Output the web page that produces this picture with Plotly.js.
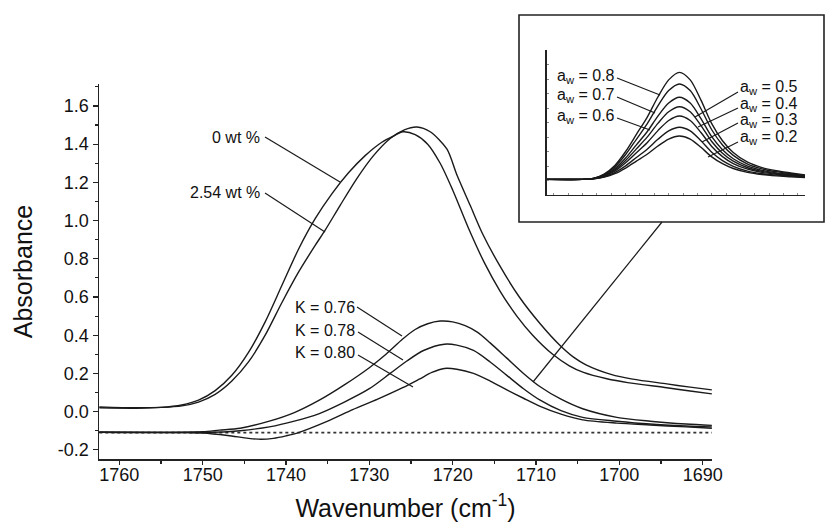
<!DOCTYPE html>
<html>
<head>
<meta charset="utf-8">
<script src="https://cdn.plot.ly/plotly-3.0.1.min.js"></script>
<style>html,body{margin:0;padding:0;background:#fff;}#chart{width:826px;height:525px;}</style>
</head>
<body>
<div id="chart"></div>
<script>
// ---------- main spectra (wavenumber cm-1, absorbance) ----------
const wt0_x = [1762.4,1758,1755,1752.5,1750.5,1748.5,1746.5,1744.5,1742.5,1740.5,1738.5,1736.5,1734.5,1732.5,1730.5,1728.5,1727,1726,1724.5,1723,1721.5,1720,1718.1,1716.2,1714.3,1712.3,1710.4,1708,1706,1704.3,1701.5,1699,1694.3,1691.5,1688.9];
const wt0_y = [0.02,0.018,0.022,0.035,0.06,0.11,0.19,0.31,0.47,0.66,0.85,1.01,1.14,1.25,1.34,1.41,1.445,1.465,1.45,1.40,1.30,1.16,0.96,0.78,0.63,0.50,0.40,0.30,0.24,0.205,0.172,0.152,0.125,0.108,0.093];

const wt254_x = [1762.4,1758,1755,1752.5,1750.5,1748.5,1746.5,1744.5,1742.5,1740.5,1738.5,1736.5,1735.3,1733.5,1731.5,1729.5,1727.5,1725.8,1724.3,1722.7,1720.7,1719.5,1717.9,1716.4,1714.3,1712,1709.5,1707.2,1705.5,1704,1701,1698.4,1694.3,1691.5,1688.9];
const wt254_y = [0.025,0.02,0.022,0.03,0.05,0.09,0.16,0.26,0.40,0.57,0.73,0.87,0.95,1.08,1.22,1.34,1.43,1.475,1.49,1.465,1.375,1.24,1.08,0.93,0.76,0.60,0.46,0.35,0.285,0.245,0.195,0.17,0.145,0.128,0.114];

const k76_x = [1762.4,1755,1750,1748,1745.5,1742,1739,1736,1733,1730,1728,1726,1724.5,1723,1721.5,1720,1718.5,1717,1715.5,1713.5,1711.5,1709.5,1707,1704.4,1700.3,1696.3,1692,1688.9];
const k76_y = [-0.108,-0.11,-0.105,-0.097,-0.087,-0.05,-0.005,0.06,0.14,0.23,0.30,0.38,0.43,0.46,0.474,0.47,0.45,0.415,0.36,0.28,0.20,0.13,0.065,0.015,-0.03,-0.05,-0.065,-0.072];

const k78_x = [1762.4,1750,1747,1745.5,1742,1739,1736,1733,1730,1727.5,1725.5,1723.5,1721,1719.5,1717.5,1715.5,1713.5,1711.5,1709.5,1707,1704.4,1700.3,1696.3,1692,1688.9];
const k78_y = [-0.108,-0.108,-0.105,-0.10,-0.08,-0.05,-0.01,0.05,0.12,0.20,0.265,0.32,0.353,0.348,0.32,0.26,0.19,0.12,0.06,0.005,-0.03,-0.05,-0.065,-0.075,-0.08];

const k80_x = [1762.4,1752,1750,1747,1744.5,1743,1741.5,1740,1738.5,1735,1732,1729,1726,1724,1722.5,1721,1719.5,1717.5,1715.5,1713.5,1711.5,1709.5,1707,1704.4,1700.3,1696.3,1692,1688.9];
const k80_y = [-0.108,-0.11,-0.112,-0.125,-0.14,-0.145,-0.14,-0.127,-0.11,-0.05,0.01,0.065,0.125,0.17,0.205,0.226,0.222,0.20,0.16,0.114,0.07,0.028,-0.013,-0.043,-0.06,-0.07,-0.08,-0.087];

const base_x = [1762.4,1688.9];
const base_y = [-0.11,-0.11];

// ---------- inset spectra (a_w series) ----------
const ins_x = [1762,1752,1749,1746,1743,1740,1737,1734,1731,1728,1725,1722,1719,1716,1713,1710,1706,1702,1698,1694,1690];
const aw08 = [.108,.108,.115,.145,.204,.300,.418,.536,.676,.794,.846,.794,.654,.492,.374,.293,.226,.189,.167,.152,.138];
const aw07 = [.108,.108,.115,.141,.194,.279,.384,.490,.615,.720,.766,.720,.595,.450,.345,.273,.213,.180,.161,.147,.134];
const aw06 = [.108,.108,.114,.136,.182,.255,.346,.436,.544,.634,.674,.634,.527,.402,.312,.250,.199,.170,.153,.142,.131];
const aw05 = [.108,.108,.113,.133,.173,.238,.318,.399,.494,.574,.609,.574,.479,.369,.288,.233,.188,.163,.148,.138,.128];
const aw04 = [.108,.108,.112,.130,.165,.222,.292,.361,.444,.514,.545,.514,.431,.335,.265,.217,.178,.156,.143,.134,.125];
const aw03 = [.108,.108,.112,.126,.155,.201,.259,.316,.384,.442,.467,.442,.374,.295,.237,.198,.165,.147,.137,.130,.122];
const aw02 = [.108,.108,.111,.123,.147,.186,.234,.281,.338,.386,.407,.386,.329,.263,.216,.183,.156,.141,.132,.126,.120];

const yTickVals = [-0.2,0.0,0.2,0.4,0.6,0.8,1.0,1.2,1.4,1.6];
const xTickVals = [1760,1750,1740,1730,1720,1710,1700,1690];

// ---------- layout helpers (pixel -> paper) ----------
const W = 826, H = 525, ML = 60, MB = 40, MT = 0, MR = 0;
const PW = W - ML - MR, PH = H - MT - MB;
const px = v => (v - ML) / PW;
const py = v => (H - MB - v) / PH;

const LC = '#1a1a1a';
const lineStyle = {color: LC, width: 1.4, shape: 'spline', smoothing: 0.8};

function tr(x, y, ax, ay) {
  return {x: x, y: y, type: 'scatter', mode: 'lines', line: lineStyle, xaxis: ax || 'x', yaxis: ay || 'y', hoverinfo: 'skip', showlegend: false};
}

const traces = [
  {x: base_x, y: base_y, type: 'scatter', mode: 'lines', line: {color: '#333', width: 1.6, dash: 'dot'}, showlegend: false},
  tr(wt0_x, wt0_y), tr(wt254_x, wt254_y),
  tr(k76_x, k76_y), tr(k78_x, k78_y), tr(k80_x, k80_y),
  tr(ins_x, aw08, 'x2', 'y2'), tr(ins_x, aw07, 'x2', 'y2'), tr(ins_x, aw06, 'x2', 'y2'),
  tr(ins_x, aw05, 'x2', 'y2'), tr(ins_x, aw04, 'x2', 'y2'), tr(ins_x, aw03, 'x2', 'y2'), tr(ins_x, aw02, 'x2', 'y2')
];

const FONT = 'Arial, "Liberation Sans", sans-serif';

function seg(x0, y0, x1, y1) {
  return {type: 'line', xref: 'paper', yref: 'paper', x0: px(x0), y0: py(y0), x1: px(x1), y1: py(y1), line: {color: LC, width: 1.2}};
}
function lab(text, x, y, anchor, size) {
  return {text: text, xref: 'paper', yref: 'paper', x: px(x), y: py(y), xanchor: anchor, yanchor: 'middle', showarrow: false, font: {family: FONT, size: size, color: '#111'}};
}

const shapes = [
  {type: 'rect', xref: 'paper', yref: 'paper', x0: px(519), y0: py(222), x1: px(824), y1: py(15), line: {color: '#222', width: 1.6}, fillcolor: 'rgba(0,0,0,0)', layer: 'below'},
  seg(662, 222, 533, 382),
  seg(265, 137, 340, 182),
  seg(265, 193, 325, 232),
  seg(357, 307, 402, 336),
  seg(358, 332, 403, 360),
  seg(358, 355, 413, 387),
  seg(617, 78, 660, 95),
  seg(617, 97, 655, 113),
  seg(617, 118, 650, 130),
  seg(738, 92, 695, 117),
  seg(738, 108, 698, 127),
  seg(738, 123, 702, 142),
  seg(738, 142, 708, 157)
];

const annotations = [
  lab('0 wt %', 262, 137, 'right', 16),
  lab('2.54 wt %', 262, 192, 'right', 16),
  lab('K = 0.76', 357, 307, 'right', 16),
  lab('K = 0.78', 357, 330, 'right', 16),
  lab('K = 0.80', 357, 352, 'right', 16),
  lab('a<sub>w</sub> = 0.8', 617, 76, 'right', 16),
  lab('a<sub>w</sub> = 0.7', 617, 96, 'right', 16),
  lab('a<sub>w</sub> = 0.6', 617, 116, 'right', 16),
  lab('a<sub>w</sub> = 0.5', 738, 87, 'left', 16),
  lab('a<sub>w</sub> = 0.4', 738, 104, 'left', 16),
  lab('a<sub>w</sub> = 0.3', 738, 120, 'left', 16),
  lab('a<sub>w</sub> = 0.2', 738, 137, 'left', 16)
];

const layout = {
  width: W, height: H,
  margin: {l: ML, r: MR, t: MT, b: MB, pad: 0},
  paper_bgcolor: '#fff', plot_bgcolor: 'rgba(0,0,0,0)',
  font: {family: FONT, color: '#111'},
  showlegend: false,
  xaxis: {
    domain: [px(99), px(712)], range: [1762.44, 1688.88], autorange: false,
    tickvals: xTickVals, ticktext: xTickVals.map(String),
    ticks: 'outside', ticklen: 4, tickwidth: 1.2, tickcolor: '#222',
    ticklabelstandoff: -5,
    minor: {dtick: 5, tick0: 1760, ticks: 'outside', ticklen: 3, tickcolor: '#222'},
    showline: true, linecolor: '#222', linewidth: 1.5, showgrid: false, zeroline: false,
    tickfont: {family: FONT, size: 18, color: '#111'},
    title: {text: 'Wavenumber (cm<sup>-1</sup>)', font: {family: FONT, size: 25, color: '#111'}, standoff: 15},
    automargin: false, anchor: 'y'
  },
  yaxis: {
    domain: [py(459), py(84)], range: [-0.248, 1.715], autorange: false,
    tickvals: yTickVals, ticktext: yTickVals.map(v => v.toFixed(1)),
    ticks: 'outside', ticklen: 5, tickwidth: 1.2, tickcolor: '#222',
    minor: {dtick: 0.1, tick0: 0, ticks: 'outside', ticklen: 3, tickcolor: '#222'},
    showline: true, linecolor: '#222', linewidth: 1.5, showgrid: false, zeroline: false,
    tickfont: {family: FONT, size: 18, color: '#111'},
    title: {text: 'Absorbance', font: {family: FONT, size: 25, color: '#111'}, standoff: 18},
    automargin: false, anchor: 'x'
  },
  xaxis2: {
    domain: [px(546.7), px(805)], range: [1762, 1690], autorange: false, anchor: 'y2',
    showline: true, linecolor: '#222', linewidth: 1.3, showgrid: false, zeroline: false,
    showticklabels: false, ticks: 'inside', ticklen: 2, dtick: 4, tickcolor: '#888'
  },
  yaxis2: {
    domain: [py(195), py(50)], range: [0, 1], autorange: false, anchor: 'x2',
    showline: true, linecolor: '#222', linewidth: 1.3, showgrid: false, zeroline: false,
    showticklabels: false, ticks: 'inside', ticklen: 2, dtick: 0.1, tickcolor: '#888'
  },
  shapes: shapes,
  annotations: annotations
};

Plotly.newPlot('chart', traces, layout, {staticPlot: true, displayModeBar: false});
</script>
</body>
</html>
